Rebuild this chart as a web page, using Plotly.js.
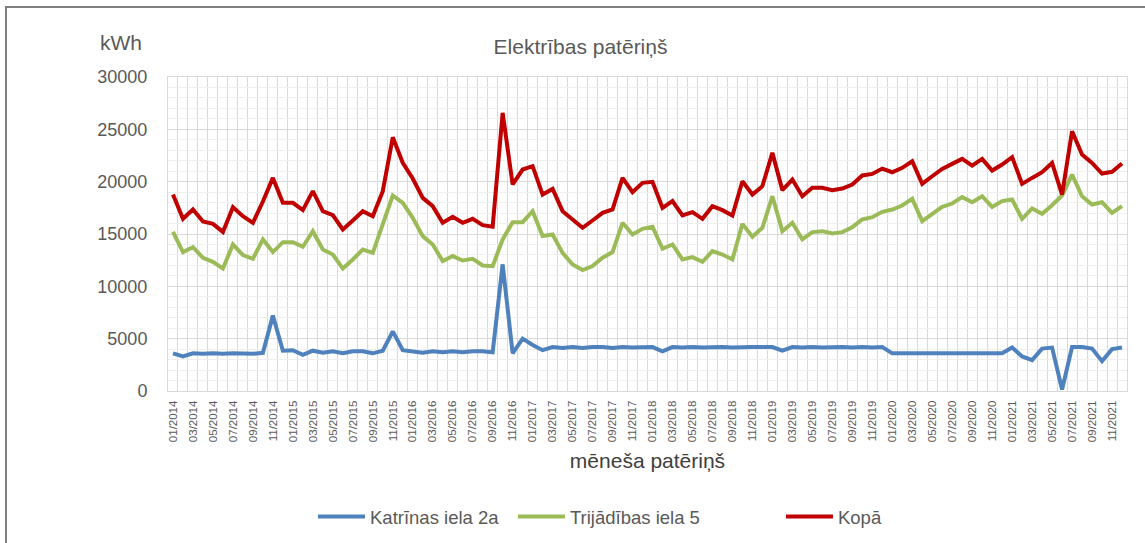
<!DOCTYPE html>
<html>
<head>
<meta charset="utf-8">
<script src="https://cdn.plot.ly/plotly-3.0.1.min.js"></script>
<style>
  html, body { margin: 0; padding: 0; background: #fff; overflow: hidden; }
  #wrap { position: relative; width: 1145px; height: 543px; }
  #chart { position: absolute; left: 0; top: 0; width: 1145px; height: 543px; }
  #frame { position: absolute; left: 5px; top: 6px; width: 1200px; height: 600px;
           border-top: 2px solid #7f7f7f; border-left: 2px solid #7f7f7f; pointer-events: none; }
</style>
</head>
<body>
<div id="wrap">
  <div id="chart"></div>
  <div id="frame"></div>
</div>
<script>
// Month category labels 01/2014 ... 12/2021
const years = [2014, 2015, 2016, 2017, 2018, 2019, 2020, 2021];
const monthNums = ["01","02","03","04","05","06","07","08","09","10","11","12"];
const months = [];
years.forEach(y => monthNums.forEach(m => months.push(m + "/" + y)));

// Katrīnas iela 2a (kWh)
const katrinas = [
  3600, 3300, 3600, 3550, 3600, 3550, 3600, 3600, 3550, 3650, 7200, 3850,
  3900, 3450, 3850, 3650, 3800, 3600, 3800, 3800, 3600, 3850, 5700, 3900,
  3800, 3650, 3800, 3700, 3800, 3700, 3800, 3800, 3700, 12100, 3600, 5000,
  4400, 3900, 4200, 4100, 4200, 4100, 4200, 4200, 4100, 4200, 4150, 4200,
  4200, 3800, 4200, 4150, 4200, 4150, 4200, 4200, 4150, 4200, 4200, 4200,
  4200, 3850, 4200, 4150, 4200, 4150, 4200, 4200, 4150, 4200, 4150, 4200,
  3600, 3600, 3600, 3600, 3600, 3600, 3600, 3600, 3600, 3600, 3600, 3600,
  4150, 3300, 2950, 4050, 4150, 150, 4200, 4200, 4050, 2850, 4000, 4150
];

// Trijādības iela 5 (kWh)
const trijadibas = [
  15200, 13270, 13740, 12730, 12340, 11700, 14000, 12980, 12630, 14480, 13270, 14220,
  14220, 13780, 15270, 13520, 13040, 11700, 12570, 13520, 13200, 15900, 18680, 17980,
  16540, 14800, 14000, 12410, 12890, 12470, 12630, 11990, 11930, 14480, 16130, 16130,
  17180, 14800, 14950, 13200, 12090, 11550, 11930, 12730, 13270, 16070, 14950, 15500,
  15700, 13590, 14000, 12570, 12790, 12340, 13360, 13040, 12570, 15970, 14730, 15590,
  18610, 15270, 16070, 14480, 15180, 15270, 15050, 15180, 15650, 16390, 16610, 17120,
  17340, 17720, 18360, 16230, 16960, 17590, 17910, 18520, 18040, 18610, 17590, 18140,
  18290, 16450, 17440, 16930, 17750, 18680, 20680, 18610, 17820, 18040, 17020, 17660
];

// Kopā (kWh)
const kopa = [
  18770, 16450, 17340, 16200, 15970, 15200, 17560, 16700, 16070, 18100, 20360, 17980,
  17980, 17280, 19090, 17180, 16800, 15430, 16290, 17180, 16700, 19090, 24240, 21800,
  20300, 18450, 17660, 16070, 16640, 16070, 16450, 15840, 15690, 26570, 19730, 21160,
  21480, 18770, 19310, 17180, 16390, 15590, 16290, 17020, 17340, 20360, 18990, 19890,
  19980, 17500, 18140, 16770, 17090, 16450, 17660, 17280, 16770, 20040, 18770, 19570,
  22750, 19190, 20200, 18610, 19410, 19410, 19190, 19340, 19730, 20590, 20740, 21250,
  20900, 21320, 21950, 19790, 20520, 21220, 21700, 22180, 21540, 22180, 21060, 21640,
  22340, 19790, 20360, 20900, 21790, 18770, 24820, 22590, 21790, 20780, 20940, 21730
];

const seriesNames = ["Katrīnas iela 2a", "Trijādības iela 5", "Kopā"];
const seriesColors = ["#4f81bd", "#9bbb59", "#c00000"];
const seriesData = [katrinas, trijadibas, kopa];
const legendIds = ["legend", "legend2", "legend3"];

const xIdx = months.map((_, i) => i);
const tickIdx = xIdx.filter(i => i % 2 === 0);
const tickLabels = tickIdx.map(i => months[i]);

const traces = seriesData.map((vals, k) => ({
  type: "scatter",
  mode: "lines",
  name: seriesNames[k],
  legend: legendIds[k],
  x: xIdx,
  y: vals,
  text: months,
  hovertemplate: "%{text}: %{y} kWh<extra>" + seriesNames[k] + "</extra>",
  line: { color: seriesColors[k], width: 4 }
}));

const FONT = "Liberation Sans, Arial, sans-serif";
const legendFont = { family: FONT, size: 18.5, color: "#595959" };
function legendAt(x) {
  return { orientation: "h", xref: "paper", x: x, xanchor: "left",
           yref: "container", y: 0.0479, yanchor: "middle",
           font: legendFont, itemwidth: 47, bgcolor: "rgba(0,0,0,0)" };
}

const layout = {
  width: 1145,
  height: 543,
  margin: { l: 168, r: 18, t: 77, b: 152, autoexpand: false },
  paper_bgcolor: "#ffffff",
  plot_bgcolor: "#ffffff",
  font: { family: FONT, color: "#595959" },
  showlegend: true,
  title: {
    text: "Elektrības patēriņš",
    font: { family: FONT, size: 21, color: "#595959" },
    x: 0.507, xref: "container", xanchor: "center",
    y: 0.915, yref: "container", yanchor: "middle"
  },
  xaxis: {
    range: [-0.5, 95.5],
    tickmode: "array",
    tickvals: tickIdx,
    ticktext: tickLabels,
    tickangle: -90,
    tickfont: { family: FONT, size: 11.5, color: "#595959" },
    ticks: "",
    ticklabelstandoff: 4,
    showgrid: false,
    minor: { tickmode: "linear", tick0: -0.5, dtick: 1, showgrid: true, gridcolor: "#d9d9d9", gridwidth: 1, ticks: "" },
    showline: true, mirror: true, linecolor: "#d9d9d9", linewidth: 1,
    zeroline: false,
    fixedrange: true,
    title: {
      text: "mēneša patēriņš",
      font: { family: FONT, size: 21, color: "#404040" },
      standoff: 12
    }
  },
  yaxis: {
    range: [0, 30000],
    tick0: 0,
    dtick: 5000,
    tickformat: "d",
    tickfont: { family: FONT, size: 18, color: "#595959" },
    ticks: "",
    ticklabelstandoff: 16,
    showgrid: true,
    gridcolor: "#d9d9d9",
    gridwidth: 1,
    minor: { dtick: 1000, showgrid: true, gridcolor: "#efefef", gridwidth: 1, ticks: "" },
    showline: true, mirror: true, linecolor: "#d9d9d9", linewidth: 1,
    zeroline: false,
    fixedrange: true
  },
  legend: legendAt(0.1512),
  legend2: legendAt(0.3597),
  legend3: legendAt(0.6392),
  annotations: [{
    text: "kWh",
    xref: "paper", yref: "paper",
    x: -0.049, y: 1.111,
    xanchor: "center", yanchor: "middle",
    showarrow: false,
    font: { family: FONT, size: 21, color: "#595959" }
  }]
};

Plotly.newPlot("chart", traces, layout, { displayModeBar: false, responsive: false });
</script>
</body>
</html>
